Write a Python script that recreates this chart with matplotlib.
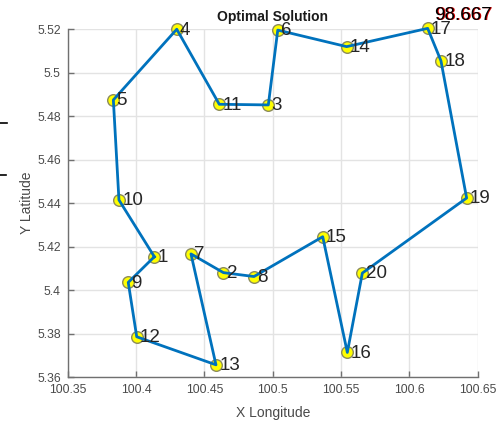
import matplotlib
matplotlib.use("Agg")
import matplotlib.pyplot as plt
from matplotlib.lines import Line2D
import numpy as np

# City coordinates (index = city number - 1)
city_ids = list(range(1, 21))
lon = [100.4134, 100.4639, 100.4968, 100.4298, 100.3834, 100.5037, 100.4402, 100.4863,
       100.3943, 100.3875, 100.4609, 100.4005, 100.4585, 100.5541, 100.5366, 100.5546,
       100.6134, 100.6231, 100.6419, 100.5656]
lat = [5.4153, 5.4080, 5.4851, 5.5199, 5.4874, 5.5195, 5.4166, 5.4062,
       5.4035, 5.4414, 5.4854, 5.3785, 5.3656, 5.5119, 5.4245, 5.3713,
       5.5203, 5.5054, 5.4423, 5.4078]
route = [1, 9, 12, 13, 7, 2, 8, 15, 16, 20, 19, 18, 17, 14, 6, 3, 11, 4, 5, 10, 1]
best_distance = "98.667"

xticks = [100.35, 100.40, 100.45, 100.50, 100.55, 100.60, 100.65]
xtick_labels = ["100.35", "100.4", "100.45", "100.5", "100.55", "100.6", "100.65"]
yticks = [5.36, 5.38, 5.40, 5.42, 5.44, 5.46, 5.48, 5.50, 5.52]
ytick_labels = ["5.36", "5.38", "5.4", "5.42", "5.44", "5.46", "5.48", "5.5", "5.52"]

plt.rcParams['font.family'] = ['Liberation Sans', 'DejaVu Sans']

fig = plt.figure(figsize=(5.03, 4.23), dpi=100)
ax = fig.add_axes([0.1346, 0.1087, 0.8151, 0.8227])

ax.scatter(lon, lat, s=70, c='#ffff00', edgecolors='#8c8c5a', linewidths=1.0,
           zorder=3, clip_on=False)
rx = [lon[i - 1] for i in route]
ry = [lat[i - 1] for i in route]
ax.plot(rx, ry, color='#0072BD', lw=2.0, zorder=4, clip_on=False)

for cid, x, y in zip(city_ids, lon, lat):
    ax.text(x + 0.0024, y - 0.0004, str(cid), fontsize=13.5, color='#262626',
            ha='left', va='center', zorder=5, clip_on=False)

ax.set_xlim(100.35, 100.65)
ax.set_ylim(5.36, 5.52)
ax.set_xticks(xticks)
ax.set_xticklabels(xtick_labels)
ax.set_yticks(yticks)
ax.set_yticklabels(ytick_labels)
ax.grid(True, color='#e3e3e3', lw=1.0, zorder=0)
ax.set_axisbelow(True)
for s in ['top', 'right']:
    ax.spines[s].set_visible(False)
for s in ['left', 'bottom']:
    ax.spines[s].set_color('#707070')
    ax.spines[s].set_linewidth(1.0)
ax.tick_params(direction='in', length=4, width=1, color='#707070',
               labelsize=8.8, labelcolor='#4a4a4a', pad=5)
ax.set_xlabel('X Longitude', fontsize=10, color='#4a4a4a', labelpad=7)
ax.set_ylabel('Y Latitude', fontsize=10, color='#4a4a4a', labelpad=2)
ax.set_title('Optimal Solution', fontsize=10, fontweight='bold', color='#1a1a1a', pad=6)

ax.text(100.6188, 5.5262, best_distance, fontsize=13.5, color='#dd0000',
        ha='left', va='center', clip_on=False, zorder=6)
ax.text(100.6181, 5.5264, best_distance, fontsize=13.5, color='#000000',
        ha='left', va='center', clip_on=False, zorder=7)

fig.add_artist(Line2D([0.0, 0.014], [1 - 123.5/423, 1 - 123.5/423], color='black', lw=1.2))
fig.add_artist(Line2D([0.0, 0.012], [1 - 175.5/423, 1 - 175.5/423], color='black', lw=1.2))

fig.savefig('out.png', dpi=100)
